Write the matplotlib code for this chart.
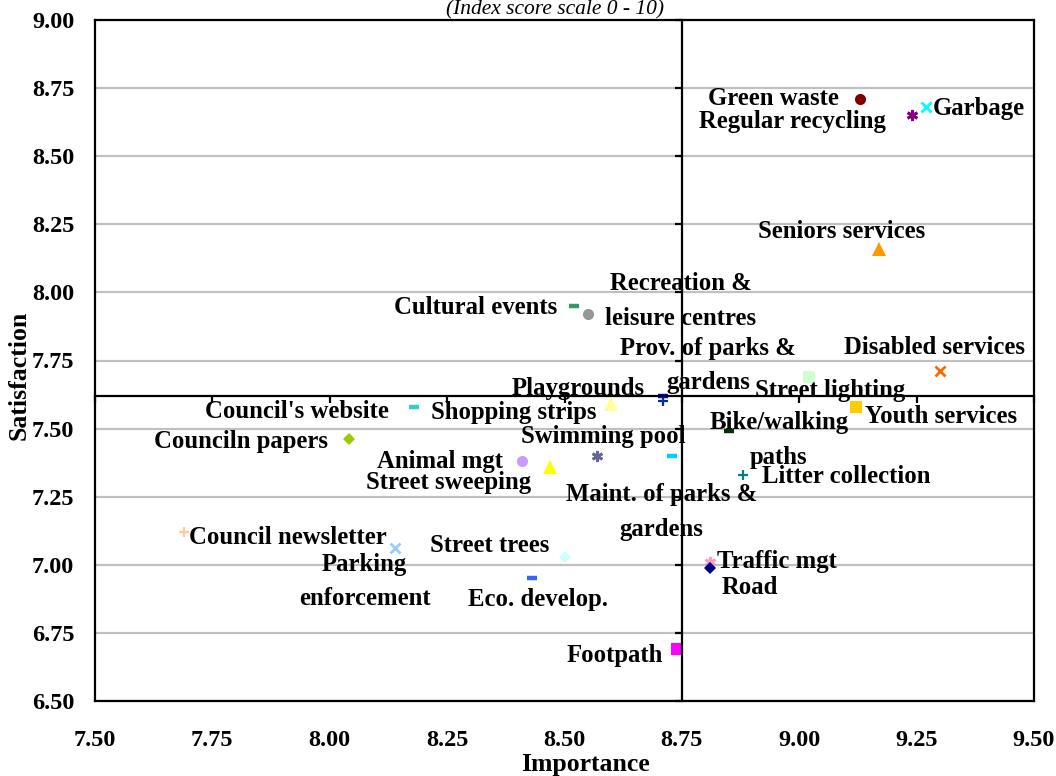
import matplotlib
matplotlib.use("Agg")
import matplotlib.pyplot as plt
import numpy as np

# ---------------- data ----------------
services = ["Green waste", "Garbage", "Regular recycling", "Seniors services",
            "Cultural events", "Recreation &\nleisure centres", "Disabled services",
            "Street lighting", "Youth services", "Playgrounds",
            "Prov. of parks &\ngardens", "Shopping strips", "Council's website",
            "Counciln papers", "Swimming pool", "Animal mgt", "Street sweeping",
            "Maint. of parks &\ngardens", "Bike/walking\npaths", "Litter collection",
            "Council newsletter", "Parking\nenforcement", "Street trees",
            "Eco. develop.", "Traffic mgt", "Road", "Footpath"]
importance = [9.13, 9.27, 9.24, 9.17,
              8.52, 8.55, 9.30,
              9.02, 9.12, 8.71,
              8.71, 8.60, 8.18,
              8.04, 8.57, 8.41, 8.47,
              8.73, 8.85, 8.88,
              7.69, 8.14, 8.50,
              8.43, 8.81, 8.81, 8.74]
satisfaction = [8.71, 8.68, 8.65, 8.16,
                7.95, 7.92, 7.71,
                7.69, 7.58, 7.62,
                7.60, 7.59, 7.58,
                7.46, 7.40, 7.38, 7.36,
                7.40, 7.49, 7.33,
                7.12, 7.06, 7.03,
                6.95, 7.01, 6.99, 6.69]
mean_importance = 8.75
mean_satisfaction = 7.62
x_ticks = [7.50, 7.75, 8.00, 8.25, 8.50, 8.75, 9.00, 9.25, 9.50]
y_ticks = [6.50, 6.75, 7.00, 7.25, 7.50, 7.75, 8.00, 8.25, 8.50, 8.75, 9.00]

# ---------------- styles ----------------
DASH = "_"
STAR = (6, 2, 0)
styles = [
    ("o", "#800000"), ("x", "#00FFFF"), (STAR, "#800080"), ("^", "#FF9900"),
    (DASH, "#339966"), ("o", "#969696"), ("x", "#FF6600"),
    ("s", "#CCFFCC"), ("s", "#FFCC00"), (DASH, "#0000FF"),
    ("+", "#003399"), ("^", "#FFFF99"), (DASH, "#33CCCC"),
    ("D", "#99CC00"), (STAR, "#666699"), ("o", "#CC99FF"), ("^", "#FFFF00"),
    (DASH, "#00CCFF"), (DASH, "#003300"), ("+", "#008080"),
    ("+", "#FFCC99"), ("x", "#99CCFF"), ("D", "#CCFFFF"),
    (DASH, "#3366FF"), (STAR, "#FF99CC"), ("D", "#000080"), ("s", "#FF00FF"),
]
# label offsets in pixels (dx right, dy down) and horizontal alignment
label_pos = [
    (-21, 0, "right"), (7, 1, "left"), (-26, 6, "right"), (-37, -17, "center"),
    (-17, 1, "right"), (93, -13, "center"), (-6, -24, "center"),
    (21, 14, "center"), (9, 10, "left"), (-18, -7, "right"),
    (45, -36, "center"), (-15, 8, "right"), (-25, 5, "right"),
    (-21, 2, "right"), (6, -19, "center"), (-19, 0, "right"), (-19, 16, "right"),
    (-11, 56, "center"), (50, 9, "center"), (19, 2, "left"),
    (5, 5, "left"), (-31, 33, "center"), (-15, -11, "right"),
    (6, 21, "center"), (7, -1, "left"), (12, 20, "left"), (-14, 6, "right"),
]

SERIF = ["Liberation Serif", "DejaVu Serif"]
plt.rcParams["font.family"] = SERIF

fig = plt.figure(figsize=(10.56, 7.76), dpi=100)
pos = [95 / 1056, 1 - 701 / 776, (1034 - 95) / 1056, (701 - 20) / 776]
ax = fig.add_axes(pos)
ax.set_xlim(x_ticks[0], x_ticks[-1])
ax.set_ylim(y_ticks[0], y_ticks[-1])
ax.set_xticks(x_ticks)
ax.set_yticks(y_ticks)
ax.set_xticklabels([f"{v:.2f}" for v in x_ticks], fontsize=17.5, fontweight="bold")
ax.set_yticklabels([f"{v:.2f}" for v in y_ticks], fontsize=17.5, fontweight="bold")
ax.tick_params(axis="x", length=0, pad=21)
ax.tick_params(axis="y", length=0, pad=15)
ax.grid(axis="y", color="#C0C0C0", lw=1.6)
ax.grid(axis="x", visible=False)
ax.set_axisbelow(True)
for s in ax.spines.values():
    s.set_linewidth(1.6)
    s.set_color("black")

ax.set_xlabel("Importance", fontsize=18.5, fontweight="bold")
ax.set_ylabel("Satisfaction", fontsize=18.5, fontweight="bold")
ax.xaxis.label.set_va("center")
ax.yaxis.label.set_va("center")
ax.xaxis.set_label_coords((585 - 95) / 939, (701 - 765) / 681)
ax.yaxis.set_label_coords((19 - 95) / 939, (701 - 375) / 681)

for i, name in enumerate(services):
    m, c = styles[i]
    kw = dict(marker=m, color=c, linestyle="none", zorder=3)
    if m == DASH:
        kw.update(markersize=7, markeredgewidth=3.2)
    elif m == "o":
        kw.update(markersize=8, markeredgewidth=0)
    elif m == "^":
        kw.update(markersize=9.5, markeredgewidth=0)
    elif m == "s":
        kw.update(markersize=8, markeredgewidth=0)
    elif m == "D":
        kw.update(markersize=6.5, markeredgewidth=0)
    elif m == "x":
        kw.update(markersize=7, markeredgewidth=2)
    elif m == "+":
        kw.update(markersize=7.5, markeredgewidth=1.6)
    else:
        kw.update(markersize=8, markeredgewidth=2)
    ax.plot([importance[i]], [satisfaction[i]], **kw)
    dx, dy, ha = label_pos[i]
    ax.annotate(name, (importance[i], satisfaction[i]),
                xytext=(dx * 0.72, -dy * 0.72), textcoords="offset points",
                ha=ha, va="center", multialignment="center",
                fontsize=17.8, fontweight="bold", linespacing=1.65, zorder=4)

# crosshair (mean) axes with small ticks
ax2 = fig.add_axes(pos)
ax2.set_xlim(ax.get_xlim())
ax2.set_ylim(ax.get_ylim())
ax2.patch.set_visible(False)
ax2.spines["top"].set_visible(False)
ax2.spines["right"].set_visible(False)
ax2.spines["left"].set_position(("data", mean_importance))
ax2.spines["bottom"].set_position(("data", mean_satisfaction))
for k in ("left", "bottom"):
    ax2.spines[k].set_linewidth(1.6)
    ax2.spines[k].set_color("black")
ax2.set_xticks(x_ticks)
ax2.set_yticks(y_ticks)
ax2.tick_params(direction="out", length=5, width=1.6, labelleft=False, labelbottom=False)

fig.text(555 / 1056, 1 - 14 / 776, "(Index score scale 0 - 10)", ha="center", va="baseline",
         fontsize=15.5, style="italic", family=SERIF)

fig.savefig("out.png", dpi=100)
